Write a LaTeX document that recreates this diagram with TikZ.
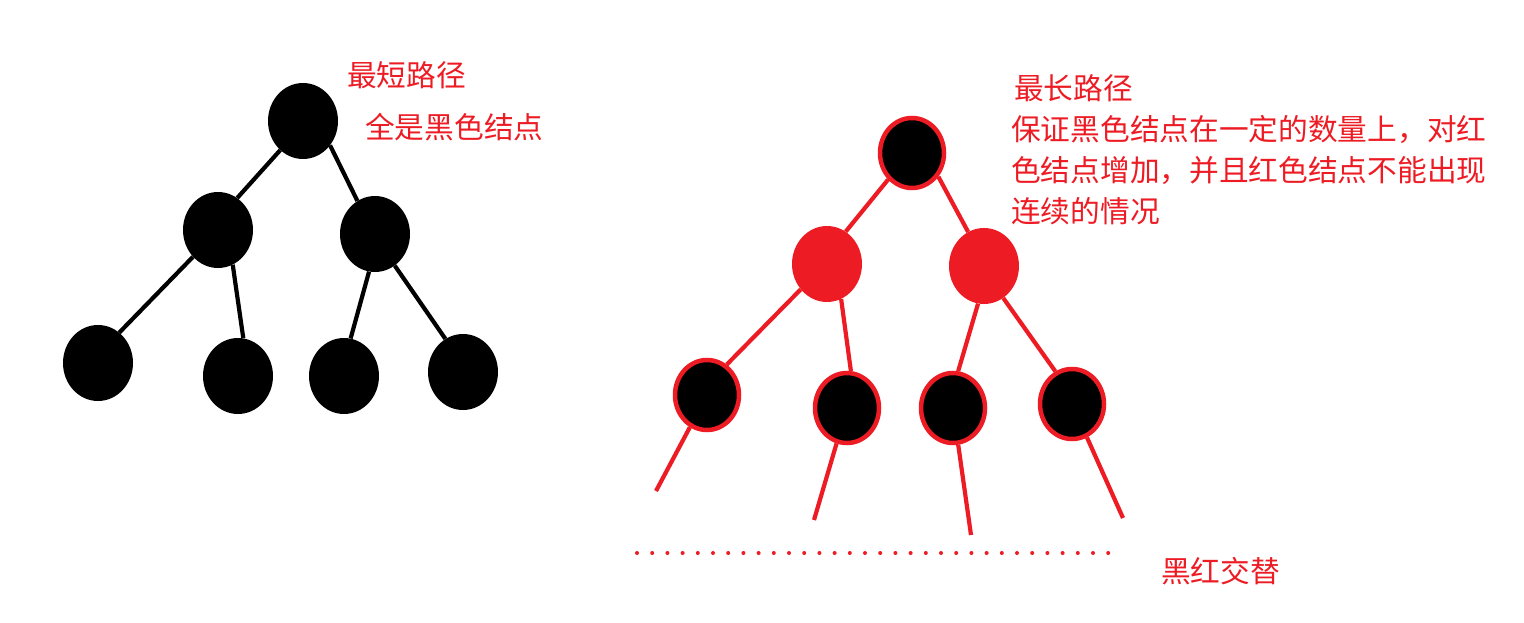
\documentclass[tikz,border=0pt]{standalone}
\usepackage{fontspec}
\newfontfamily\cjk{Noto Sans CJK SC}
\usetikzlibrary{shapes.geometric}
\definecolor{pred}{HTML}{ED1C24}
\tikzset{
  bnode/.style={ellipse, fill=black, inner sep=0pt, minimum width=70pt, minimum height=76pt},
  rbnode/.style={ellipse, fill=black, draw=pred, line width=4.5pt, inner sep=0pt, minimum width=64pt, minimum height=70pt},
  rnode/.style={ellipse, fill=pred, inner sep=0pt, minimum width=70pt, minimum height=76pt},
  bedge/.style={line width=4.2pt, black},
  redge/.style={line width=4.2pt, pred},
  lbl/.style={text=pred, inner sep=0pt, anchor=west, font=\cjk\fontsize{29.7}{41}\selectfont},
}
\begin{document}
\begin{tikzpicture}[x=1pt,y=-1pt]
\useasboundingbox (0,0) rectangle (1524,623);
% black tree
\node[bnode] (a) at (303,121) {};
\node[bnode] (b) at (218,230) {};
\node[bnode] (c) at (375,234) {};
\node[bnode] (b1) at (98,363) {};
\node[bnode] (b2) at (238,376) {};
\node[bnode] (c1) at (344,376) {};
\node[bnode] (c2) at (463,372) {};
\draw[bedge] (a.232) -- (b.59);
\draw[bedge] (a.-42) -- (c.118);
\draw[bedge] (b.227) -- (b1.55);
\draw[bedge] (b.-67) -- (b2.82);
\draw[bedge] (c.261) -- (c1.80);
\draw[bedge] (c.-58) -- (c2.118);
% red tree
\node[rbnode] (r) at (912,153) {};
\node[rnode] (s) at (827,264) {};
\node[rnode] (t) at (984,266) {};
\node[rbnode] (s1) at (707,395) {};
\node[rbnode] (s2) at (847,408) {};
\node[rbnode] (t1) at (953,408) {};
\node[rbnode] (t2) at (1072,404) {};
\coordinate (e1) at (656,491);
\coordinate (e2) at (814,520);
\coordinate (e3) at (971,535);
\coordinate (e4) at (1123,518);
\draw[redge] (r.228) -- (s.60);
\draw[redge] (r.-42) -- (t.115);
\draw[redge] (s.224) -- (s1.57);
\draw[redge] (s.-68) -- (s2.84);
\draw[redge] (t.261) -- (t1.82);
\draw[redge] (t.-59) -- (t2.117);
\draw[redge] (s1) -- (e1);
\draw[redge] (s2) -- (e2);
\draw[redge] (t1) -- (e3);
\draw[redge] (t2) -- (e4);
% dots
\foreach \i in {0,...,31} \fill[pred] (637+15.2*\i,553) circle (2pt);
% labels
\node[lbl] (l1) at (347,75) {最短路径};
\node[lbl] (l2) at (365,127) {全是黑色结点};
\node[lbl] (l3) at (1014,88) {最长路径};
\node[lbl, anchor=north west, align=left] (l4) at (1011,115) {保证黑色结点在一定的数量上，对红\\色结点增加，并且红色结点不能出现\\连续的情况};
\node[lbl] (l5) at (1161,571) {黑红交替};
\end{tikzpicture}
\end{document}
